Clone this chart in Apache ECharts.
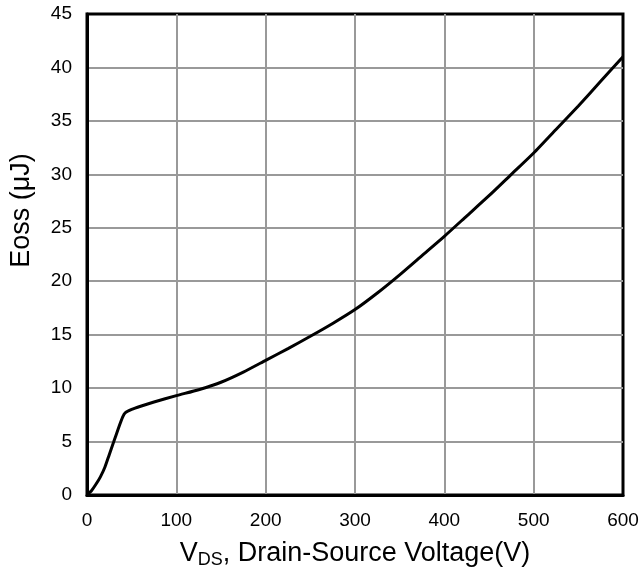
<!DOCTYPE html>
<html>
<head>
<meta charset="utf-8">
<script src="https://cdn.jsdelivr.net/npm/echarts@6/dist/echarts.min.js"></script>
<style>
html,body{margin:0;padding:0;background:#fff;}
#chart{width:643px;height:567px;}
</style>
</head>
<body>
<div id="chart"></div>
<script>
// Drain-source voltage (V)
var vds = [0, 5, 10, 15, 20, 25, 30, 35, 40, 43, 50, 60, 75, 100, 125, 150, 175, 200, 225, 250, 275, 300, 325, 350, 375, 400, 425, 450, 475, 500, 525, 550, 575, 600];
// Eoss (uJ)
var eoss = [0, 0.4, 1.0, 1.7, 2.6, 3.8, 5.0, 6.2, 7.3, 7.7, 8.0, 8.3, 8.7, 9.3, 9.85, 10.55, 11.5, 12.6, 13.7, 14.85, 16.05, 17.35, 18.9, 20.6, 22.4, 24.2, 26.1, 28.0, 30.0, 32.0, 34.2, 36.4, 38.7, 41.0];
var xTicks = [0, 100, 200, 300, 400, 500, 600];
var yTicks = [0, 5, 10, 15, 20, 25, 30, 35, 40, 45];

var data = vds.map(function (v, i) { return [v, eoss[i]]; });
var font = 'Liberation Sans, Arial, sans-serif';

var chart = echarts.init(document.getElementById('chart'), null, {renderer: 'canvas'});
chart.setOption({
  animation: false,
  backgroundColor: '#fff',
  grid: {
    left: 87, right: 20, top: 14, bottom: 72,
    containLabel: false, outerBoundsMode: 'none',
    show: true, borderColor: '#000', borderWidth: 3, backgroundColor: 'transparent'
  },
  xAxis: {
    type: 'value',
    min: xTicks[0], max: xTicks[xTicks.length - 1], interval: 100,
    name: '{n|V}{s|DS}{n|, Drain-Source Voltage(V)}',
    nameLocation: 'middle', nameGap: 44,
    nameTextStyle: {
      rich: {
        n: {fontSize: 27, fontFamily: font, color: '#000'},
        s: {fontSize: 18, fontFamily: font, color: '#000', verticalAlign: 'bottom', padding: [12, 0, 0, 0]}
      }
    },
    axisLine: {show: true, lineStyle: {color: '#000', width: 3}},
    axisTick: {show: false},
    axisLabel: {fontSize: 19, fontFamily: font, color: '#000', margin: 16},
    splitLine: {show: true, showMinLine: false, showMaxLine: false, lineStyle: {color: '#999', width: 2}}
  },
  yAxis: {
    type: 'value',
    min: yTicks[0], max: yTicks[yTicks.length - 1], interval: 5,
    name: 'Eoss (μJ)',
    nameLocation: 'middle', nameGap: 52,
    nameTextStyle: {fontSize: 27, fontFamily: font, color: '#000', padding: [0, 0, 0, 88]},
    axisLine: {show: true, lineStyle: {color: '#000', width: 3}},
    axisTick: {show: false},
    axisLabel: {fontSize: 19, fontFamily: font, color: '#000', margin: 15},
    splitLine: {show: true, showMinLine: false, showMaxLine: false, lineStyle: {color: '#999', width: 2}}
  },
  series: [{
    type: 'line',
    data: data,
    smooth: 0.2,
    showSymbol: false,
    lineStyle: {color: '#000', width: 3},
    z: 5
  }]
});
</script>
</body>
</html>
